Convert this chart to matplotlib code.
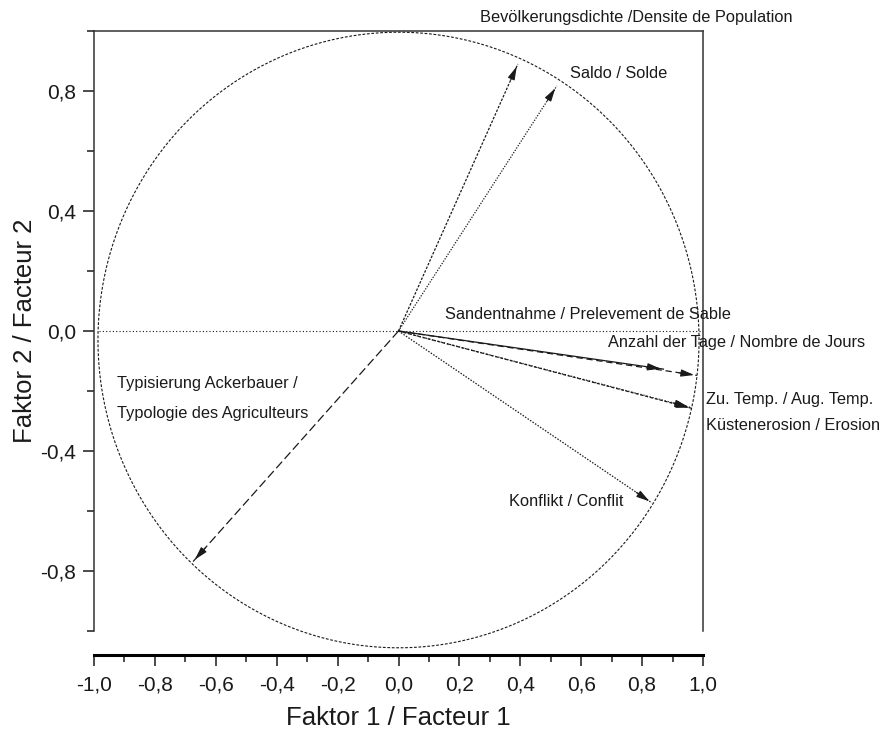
import numpy as np
import matplotlib
matplotlib.use('Agg')
import matplotlib.pyplot as plt
from matplotlib.patches import FancyArrowPatch
from matplotlib.ticker import MultipleLocator, FuncFormatter

plt.rcParams['font.family'] = ['Liberation Sans', 'DejaVu Sans']

# factor loadings (Faktor 1, Faktor 2)
variables = ['Bevölkerungsdichte', 'Saldo', 'Sandentnahme', 'Anzahl der Tage',
             'Zu. Temp.', 'Küstenerosion', 'Konflikt', 'Typisierung']
factor1 = [0.392, 0.520, 0.980, 0.870, 0.964, 0.960, 0.832, -0.675]
factor2 = [0.890, 0.817, -0.148, -0.127, -0.258, -0.255, -0.573, -0.769]

labels = {
    'Bevölkerungsdichte': ('Bevölkerungsdichte /Densite de Population', 0.268, 1.044),
    'Saldo': ('Saldo / Solde', 0.563, 0.857),
    'Sandentnahme': ('Sandentnahme / Prelevement de Sable', 0.153, 0.056),
    'Anzahl der Tage': ('Anzahl der Tage / Nombre de Jours', 0.687, -0.038),
    'Zu. Temp.': ('Zu. Temp. / Aug. Temp.', 1.01, -0.227),
    'Küstenerosion': ('Küstenerosion / Erosion', 1.01, -0.314),
    'Konflikt': ('Konflikt / Conflit', 0.363, -0.570),
    'Typisierung': ('Typisierung Ackerbauer /\n\nTypologie des Agriculteurs', -0.924, -0.224),
}
line_styles = {
    'Bevölkerungsdichte': (0, (2, 1.2)),
    'Saldo': (0, (1, 1.2)),
    'Sandentnahme': (0, (5, 3)),
    'Anzahl der Tage': '-',
    'Zu. Temp.': (0, (2.5, 1.5)),
    'Küstenerosion': (0, (1, 1.5)),
    'Konflikt': (0, (1.2, 1.2)),
    'Typisierung': (0, (7, 3)),
}

ink = '#1a1a1a'

fig = plt.figure(figsize=(8.83, 7.29), dpi=100)
ax = fig.add_axes([94 / 883, 1 - 631 / 729, 609 / 883, 600 / 729])
ax.set_xlim(-1, 1)
ax.set_ylim(-1, 1)

# correlation circle (slightly stretched as in the original)
theta = np.linspace(0, 2 * np.pi, 720)
ax.plot(0.987 * np.cos(theta), -0.03 + 1.026 * np.sin(theta),
        color=ink, lw=0.8, ls=(0, (2.5, 1.5)), clip_on=False, zorder=2)

# horizontal reference line
ax.plot([-0.985, 1.0], [0, 0], color=ink, lw=0.8, ls=(0, (1, 2)), zorder=1)

for name, fx, fy in zip(variables, factor1, factor2):
    ax.plot([0, fx], [0, fy], color=ink, lw=0.9, ls=line_styles[name], zorder=3)
    arrow = FancyArrowPatch((0.93 * fx, 0.93 * fy), (fx, fy),
                            arrowstyle='-|>,head_length=0.8,head_width=0.22',
                            mutation_scale=10, color=ink, lw=0.8, zorder=4)
    ax.add_patch(arrow)
    text, tx, ty = labels[name]
    ax.text(tx, ty, text, fontsize=11.8, color=ink, ha='left', va='center',
            linespacing=1.0, clip_on=False)

ax.spines['bottom'].set_position(('outward', 17))
ax.spines['bottom'].set_linewidth(2.2)
for side in ['left', 'top', 'right']:
    ax.spines[side].set_linewidth(1.1)
    ax.spines[side].set_color('#333333')

ax.xaxis.set_major_locator(MultipleLocator(0.2))
ax.xaxis.set_minor_locator(MultipleLocator(0.1))
ax.yaxis.set_major_locator(MultipleLocator(0.4))
ax.yaxis.set_minor_locator(MultipleLocator(0.2))
comma = FuncFormatter(lambda v, pos: f'{v:.1f}'.replace('.', ',').replace('-0,0', '0,0'))
ax.xaxis.set_major_formatter(comma)
ax.yaxis.set_major_formatter(comma)
ax.tick_params(which='both', direction='out', top=False, right=False,
               colors=ink, labelsize=15)
ax.tick_params(which='major', length=8, width=1.1, pad=5)
ax.tick_params(which='minor', length=5, width=1.1)
ax.tick_params(axis='x', which='major', pad=7)

ax.set_xlabel('Faktor 1 / Facteur 1', fontsize=18.5, color=ink, labelpad=8)
ax.set_ylabel('Faktor 2 / Facteur 2', fontsize=18.5, color=ink, labelpad=2)

fig.savefig('out.png', dpi=100)
